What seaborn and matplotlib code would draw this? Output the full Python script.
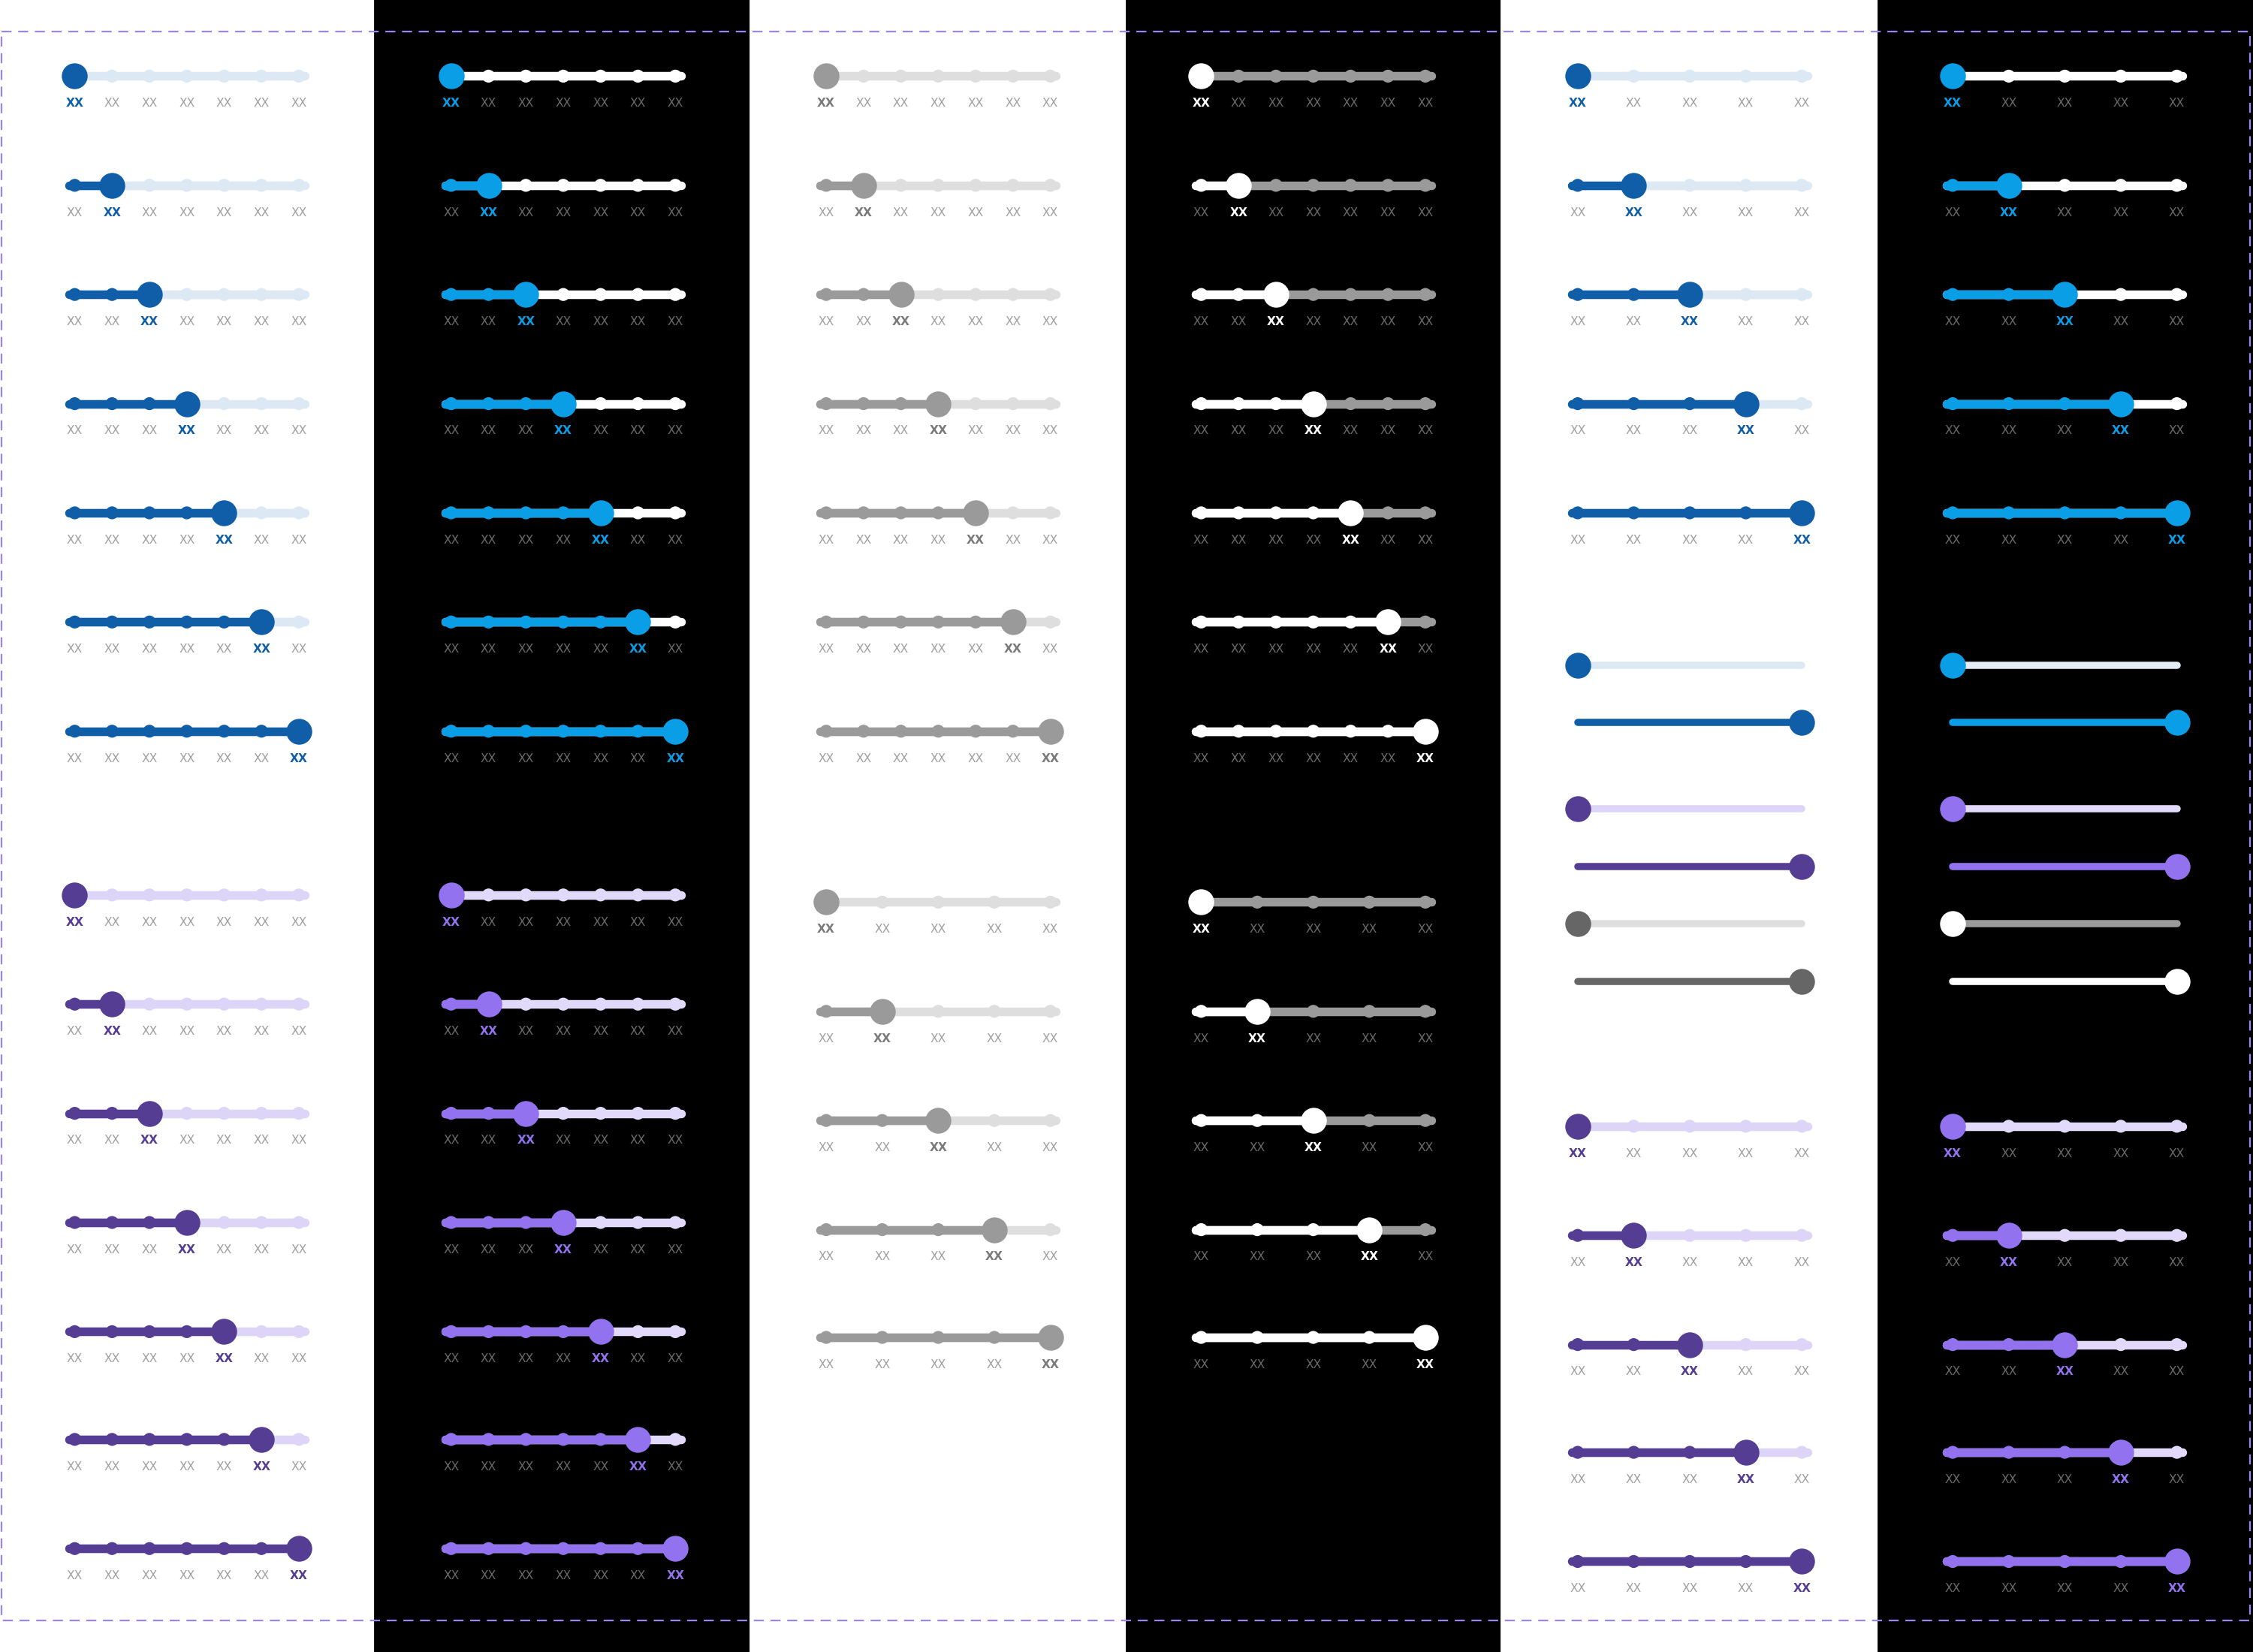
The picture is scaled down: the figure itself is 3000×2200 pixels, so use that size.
import matplotlib
matplotlib.use("Agg")
import matplotlib.pyplot as plt
from matplotlib.patches import Rectangle
import numpy as np
import seaborn as sns

sns.set_theme(style="white")
plt.rcParams['font.family'] = ['DejaVu Sans']

# canvas units follow the reference layout (1568 x 1150)
W, H = 1568, 1150
PX = 3000 / W * 72 / 200  # points per canvas unit

col_bg = ['white', 'black', 'white', 'black', 'white', 'black']
col_x0 = [0, 261, 522, 784, 1045, 1307]

stop_label = "XX"
steps7 = [0, 1, 2, 3, 4, 5, 6]
steps5 = [0, 1, 2, 3, 4]
rows_a = [53, 129, 205, 281, 357, 433, 509]
rows_b = [623, 699, 775, 851, 927, 1002, 1078]
rows_g5 = [628, 704, 780, 856, 931]
rows_c5 = [53, 129, 205, 281, 357]
rows_d5 = [784, 860, 936, 1011, 1087]
cont_rows = [463, 503, 563, 603, 643, 683]

# (active, inactive, thumb, active label, dim label)
BLUE_L = ('#115ea8', '#dce8f4', '#115ea8', '#115ea8', '#a0a0a0')
PURP_L = ('#563d94', '#ddd5f8', '#563d94', '#563d94', '#a0a0a0')
GRAY_L = ('#9a9a9a', '#dedede', '#9a9a9a', '#7a7a7a', '#a0a0a0')
BLUE_D = ('#0a9ee6', '#ffffff', '#0a9ee6', '#0a9ee6', '#6a6a6a')
PURP_D = ('#9272ee', '#e2dafb', '#9272ee', '#9272ee', '#6a6a6a')
GRAY_D = ('#ffffff', '#9a9a9a', '#ffffff', '#ffffff', '#6a6a6a')

fig = plt.figure(figsize=(15, 11), dpi=200)
ax = fig.add_axes([0, 0, 1, 1])
ax.set_xlim(0, W)
ax.set_ylim(H, 0)
ax.axis('off')

for x0, bg in zip(col_x0, col_bg):
    ax.add_patch(Rectangle((x0, 0), 262, H, color=bg, zorder=0))
ax.add_patch(Rectangle((1, 22), 1565, 1106, fill=False, ls=(0, (6, 4)),
                       ec='#9b85f0', lw=0.8, zorder=1))


def slider(x0, x1, y, n, active, pal, labels=True):
    act, ina, thumb, lab_on, lab_off = pal
    xs = np.linspace(x0, x1, n)
    ext = 4
    ax.plot([x0 - ext, x1 + ext], [y, y], color=ina, lw=6 * PX,
            solid_capstyle='round', zorder=2)
    xa = xs[active]
    if active > 0:
        ax.plot([x0 - ext, xa], [y, y], color=act, lw=6 * PX,
                solid_capstyle='round', zorder=3)
    cols = [act if i < active else ina for i in range(n)]
    sns.scatterplot(x=xs, y=[y] * n, c=cols, s=(9 * PX) ** 2, linewidth=0,
                    ax=ax, zorder=4, legend=False)
    ax.scatter([xa], [y], c=[thumb], s=(18 * PX) ** 2, linewidths=0, zorder=5)
    if labels:
        for i, x in enumerate(xs):
            on = i == active
            ax.text(x, y + 19, stop_label, ha='center', va='center',
                    fontsize=5.6, color=lab_on if on else lab_off,
                    fontweight='bold' if on else 'normal', zorder=6)


def cont(x0, x1, y, at_end, pal):
    act, ina, thumb = pal
    ax.plot([x0, x1], [y, y], color=act if at_end else ina, lw=5 * PX,
            solid_capstyle='round', zorder=2)
    ax.scatter([x1 if at_end else x0], [y], c=[thumb], s=(18 * PX) ** 2,
               linewidths=0, zorder=5)


# column 1 & 2: 7-stop blue and purple
for a, y in zip(steps7, rows_a):
    slider(52, 208, y, 7, a, BLUE_L)
    slider(314, 470, y, 7, a, BLUE_D)
    slider(575, 731, y, 7, a, GRAY_L)
    slider(836, 992, y, 7, a, GRAY_D)
for a, y in zip(steps7, rows_b):
    slider(52, 208, y, 7, a, PURP_L)
    slider(314, 470, y, 7, a, PURP_D)
for a, y in zip(steps5, rows_g5):
    slider(575, 731, y, 5, a, GRAY_L)
    slider(836, 992, y, 5, a, GRAY_D)
for a, y in zip(steps5, rows_c5):
    slider(1098, 1254, y, 5, a, BLUE_L)
    slider(1359, 1515, y, 5, a, BLUE_D)
for a, y in zip(steps5, rows_d5):
    slider(1098, 1254, y, 5, a, PURP_L)
    slider(1359, 1515, y, 5, a, PURP_D)

cont_light = [('#115ea8', '#dce8f4', '#115ea8'), ('#563d94', '#ddd5f8', '#563d94'),
              ('#666666', '#dedede', '#666666')]
cont_dark = [('#0a9ee6', '#e4ecf6', '#0a9ee6'), ('#9272ee', '#e2dafb', '#9272ee'),
             ('#ffffff', '#9a9a9a', '#ffffff')]
for i, y in enumerate(cont_rows):
    cont(1098, 1254, y, i % 2 == 1, cont_light[i // 2])
    cont(1359, 1515, y, i % 2 == 1, cont_dark[i // 2])

fig.savefig('out.png', dpi=200)
